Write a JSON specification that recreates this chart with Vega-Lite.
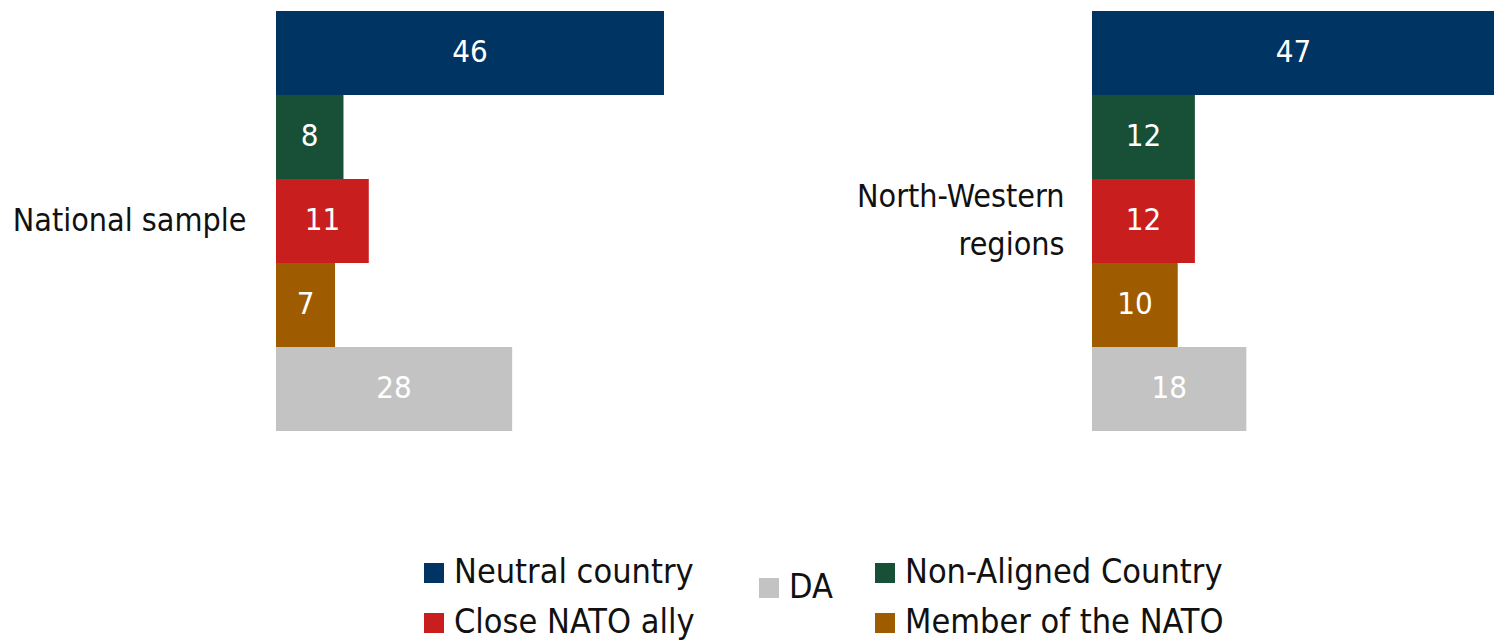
{
  "$schema": "https://vega.github.io/schema/vega-lite/v6.json",
  "padding": {"left": 12, "top": 11, "right": 0, "bottom": 0},
  "bounds": "flush",
  "spacing": 428,
  "config": {
    "view": {"stroke": null},
    "font": "DejaVu Sans Condensed, sans-serif",
    "axis": {"domain": false, "ticks": false, "grid": false, "title": null, "labelFontSize": 32, "labelColor": "#111111", "labelPadding": 30, "labelLimit": 500, "labelFont": "DejaVu Sans Condensed, sans-serif"},
    "legend": {"labelFont": "DejaVu Sans Condensed, sans-serif", "labelFontSize": 34, "labelColor": "#111111", "labelLimit": 500, "symbolType": "square", "symbolSize": 400, "symbolStrokeWidth": 0, "symbolOpacity": 1, "title": null, "padding": 0, "labelOffset": 3}
  },
  "data": {"values": [
    {"group": "National sample", "answer": "Neutral country", "value": 46},
    {"group": "National sample", "answer": "Non-Aligned Country", "value": 8},
    {"group": "National sample", "answer": "Close NATO ally", "value": 11},
    {"group": "National sample", "answer": "Member of the NATO", "value": 7},
    {"group": "National sample", "answer": "DA", "value": 28},
    {"group": "North-Western regions", "answer": "Neutral country", "value": 47},
    {"group": "North-Western regions", "answer": "Non-Aligned Country", "value": 12},
    {"group": "North-Western regions", "answer": "Close NATO ally", "value": 12},
    {"group": "North-Western regions", "answer": "Member of the NATO", "value": 10},
    {"group": "North-Western regions", "answer": "DA", "value": 18}
  ]},
  "hconcat": [
    {
      "width": 388,
      "height": 420,
      "transform": [{"filter": "datum.group == 'National sample'"}],
      "encoding": {
        "y": {"field": "group", "type": "nominal", "scale": {"paddingInner": 0, "paddingOuter": 0}, "axis": {}},
        "yOffset": {"field": "answer", "type": "nominal", "scale": {"domain": ["Neutral country", "Non-Aligned Country", "Close NATO ally", "Member of the NATO", "DA"], "paddingInner": 0, "paddingOuter": 0}}
      },
      "layer": [
        {
          "transform": [{"filter": "datum.answer != 'DA'"}],
          "mark": {"type": "bar"},
          "encoding": {
            "x": {"field": "value", "type": "quantitative", "scale": {"domain": [0, 46], "nice": false, "zero": true}, "axis": null},
            "color": {"field": "answer", "type": "nominal", "scale": {"domain": ["Neutral country", "Close NATO ally", "Non-Aligned Country", "Member of the NATO"], "range": ["#003462", "#c81e1e", "#174f37", "#9f5b00"]}, "legend": {"orient": "none", "legendX": 141, "legendY": 545, "columns": 2, "columnPadding": 173, "rowPadding": 16, "direction": "vertical"}}
          }
        },
        {
          "transform": [{"filter": "datum.answer == 'DA'"}],
          "mark": {"type": "bar"},
          "encoding": {
            "x": {"field": "value", "type": "quantitative", "scale": {"domain": [0, 46], "nice": false, "zero": true}, "axis": null},
            "fill": {"field": "answer", "type": "nominal", "scale": {"domain": ["DA"], "range": ["#c3c3c3"]}, "legend": {"orient": "none", "legendX": 476, "legendY": 560}}
          }
        },
        {
          "mark": {"type": "text", "color": "white", "fontSize": 31, "align": "center", "baseline": "middle", "font": "DejaVu Sans Condensed, sans-serif"},
          "encoding": {
            "x": {"field": "value", "type": "quantitative", "scale": {"domain": [0, 92], "nice": false, "zero": true}, "axis": null},
            "text": {"field": "value", "type": "quantitative"}
          }
        }
      ],
      "resolve": {"scale": {"x": "independent"}}
    },
    {
      "width": 403,
      "height": 420,
      "transform": [{"filter": "datum.group == 'North-Western regions'"}],
      "encoding": {
        "y": {"field": "group", "type": "nominal", "scale": {"paddingInner": 0, "paddingOuter": 0}, "axis": {"labelExpr": "datum.value == 'North-Western regions' ? ['North-Western', 'regions'] : datum.value", "labelLineHeight": 48, "labelOffset": -24, "labelPadding": 28}},
        "yOffset": {"field": "answer", "type": "nominal", "scale": {"domain": ["Neutral country", "Non-Aligned Country", "Close NATO ally", "Member of the NATO", "DA"], "paddingInner": 0, "paddingOuter": 0}}
      },
      "layer": [
        {
          "transform": [{"filter": "datum.answer != 'DA'"}],
          "mark": {"type": "bar"},
          "encoding": {
            "x": {"field": "value", "type": "quantitative", "scale": {"domain": [0, 47], "nice": false, "zero": true}, "axis": null},
            "color": {"field": "answer", "type": "nominal"}
          }
        },
        {
          "transform": [{"filter": "datum.answer == 'DA'"}],
          "mark": {"type": "bar"},
          "encoding": {
            "x": {"field": "value", "type": "quantitative", "scale": {"domain": [0, 47], "nice": false, "zero": true}, "axis": null},
            "fill": {"field": "answer", "type": "nominal"}
          }
        },
        {
          "mark": {"type": "text", "color": "white", "fontSize": 31, "align": "center", "baseline": "middle", "font": "DejaVu Sans Condensed, sans-serif"},
          "encoding": {
            "x": {"field": "value", "type": "quantitative", "scale": {"domain": [0, 94], "nice": false, "zero": true}, "axis": null},
            "text": {"field": "value", "type": "quantitative"}
          }
        }
      ],
      "resolve": {"scale": {"x": "independent"}}
    }
  ]
}
